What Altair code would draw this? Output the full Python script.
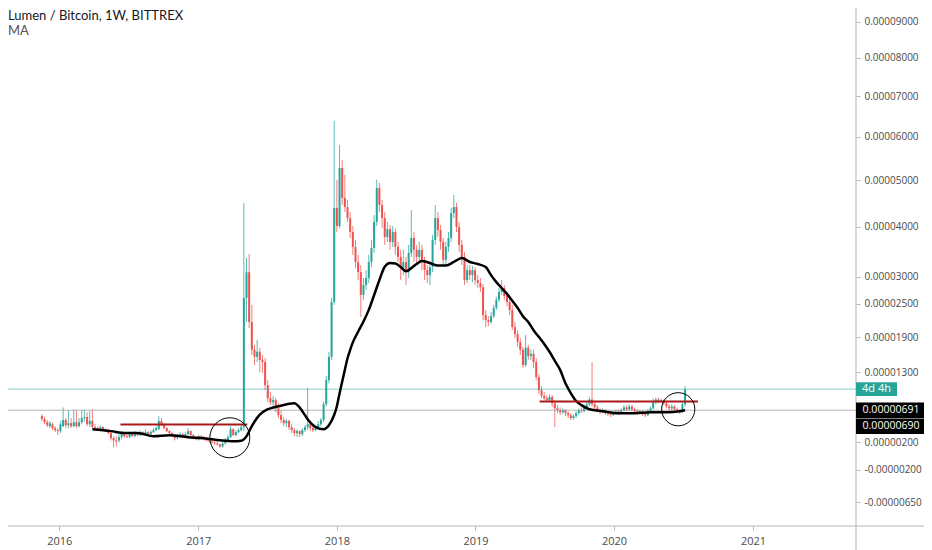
import altair as alt
import pandas as pd

# ---------------- data (prices in satoshi, 1 sat = 0.00000001 BTC) ----------------
first_week = "2015-11-16"

open_ = [
    600, 555, 505, 445, 475, 415, 385, 370, 445, 540,
    460, 490, 445, 505, 445, 505, 570, 585, 475, 525,
    430, 415, 400, 430, 385, 370, 340, 265, 230, 230,
    280, 340, 295, 280, 325, 295, 340, 310, 355, 325,
    355, 325, 355, 385, 400, 525, 475, 415, 370, 340,
    295, 265, 295, 325, 280, 325, 370, 310, 265, 245,
    295, 265, 245, 230, 215, 200, 185, 170, 140, 185,
    230, 280, 400, 310, 355, 385, 430, 2605, 3090, 2165,
    1680, 1560, 1645, 1505, 1470, 1090, 880, 815, 850, 720,
    615, 540, 490, 525, 430, 385, 340, 370, 325, 385,
    430, 475, 415, 385, 430, 475, 540, 785, 1170, 1560,
    2530, 4395, 4015, 5275, 4610, 4415, 4180, 3890, 3590, 3290,
    3090, 2660, 2845, 2980, 3290, 3570, 4100, 4825, 4460, 4180,
    3790, 3950, 3690, 3890, 3590, 3390, 3170, 3290, 3090, 3470,
    3770, 3530, 3390, 3530, 3290, 3130, 3035, 3190, 3730, 4180,
    3930, 3690, 3330, 3590, 3770, 4285, 4415, 3995, 3630, 3390,
    2940, 3130, 3035, 3130, 2940, 2885, 2805, 2290, 2200, 2165,
    2270, 2420, 2570, 2715, 2790, 2640, 2530, 2380, 2075, 1950,
    1815, 1680, 1420, 1715, 1575, 1610, 1470, 1220, 1010, 915,
    880, 850, 900, 800, 720, 690, 660, 690, 645, 615,
    570, 600, 645, 690, 675, 735, 785, 860, 785, 735,
    690, 660, 690, 645, 630, 615, 645, 675, 645, 690,
    735, 705, 750, 705, 675, 645, 675, 630, 615, 675,
    720, 815, 860, 830, 845, 800, 750, 720, 750, 705,
    675, 660, 785,
]
high = [
    630, 585, 540, 525, 505, 445, 415, 525, 735, 570,
    690, 570, 705, 690, 570, 690, 705, 660, 675, 705,
    475, 445, 460, 445, 415, 400, 370, 295, 295, 325,
    370, 355, 340, 355, 340, 370, 355, 385, 370, 400,
    370, 385, 415, 445, 600, 570, 490, 430, 385, 355,
    310, 325, 355, 340, 355, 415, 385, 325, 295, 310,
    310, 295, 280, 265, 245, 230, 215, 185, 215, 265,
    310, 445, 415, 385, 415, 460, 4500, 3370, 3450, 2475,
    1765, 1850, 1715, 1590, 1540, 1170, 975, 915, 880, 800,
    690, 585, 555, 540, 475, 415, 400, 385, 415, 460,
    1045, 505, 460, 460, 525, 570, 830, 1240, 1645, 2610,
    6385, 5010, 5805, 5460, 5120, 4570, 4310, 4015, 3730, 3430,
    3230, 2980, 3130, 3430, 3730, 4245, 5010, 4940, 4570, 4310,
    4100, 4035, 4015, 3970, 3690, 3530, 3530, 3390, 3630, 4350,
    3890, 3630, 3690, 3630, 3390, 3230, 3290, 3830, 4460, 4310,
    4035, 3770, 3690, 3890, 4395, 4675, 4505, 4100, 3730, 3490,
    3230, 3230, 3210, 3190, 3035, 2980, 2865, 2380, 2270, 2345,
    2475, 2625, 2790, 2940, 2845, 2715, 2605, 2475, 2165, 2020,
    1885, 1730, 1935, 1765, 1680, 1680, 1540, 1270, 1075, 980,
    930, 945, 930, 845, 770, 735, 720, 705, 675, 645,
    630, 675, 720, 735, 770, 830, 905, 1470, 830, 770,
    720, 720, 705, 675, 660, 675, 705, 705, 720, 770,
    770, 785, 770, 735, 705, 690, 690, 660, 705, 750,
    875, 890, 890, 875, 860, 830, 785, 785, 770, 735,
    705, 815, 1075,
]
low = [
    525, 475, 430, 415, 385, 355, 310, 340, 430, 415,
    415, 415, 430, 415, 430, 475, 505, 445, 430, 415,
    400, 385, 370, 370, 355, 325, 230, 125, 140, 200,
    245, 265, 265, 265, 280, 280, 295, 295, 310, 310,
    310, 310, 340, 370, 385, 445, 400, 355, 325, 280,
    230, 245, 280, 265, 265, 295, 295, 245, 230, 230,
    245, 230, 215, 200, 185, 170, 155, 125, 125, 170,
    215, 265, 295, 295, 340, 370, 370, 2165, 2055, 1590,
    1420, 1470, 1305, 1290, 1010, 815, 770, 720, 660, 570,
    490, 445, 430, 385, 340, 295, 280, 280, 295, 355,
    385, 370, 355, 370, 400, 445, 505, 750, 1120, 1505,
    2475, 3890, 3970, 4460, 4310, 4100, 3770, 3430, 3170, 2940,
    2255, 2570, 2750, 2885, 3190, 3470, 4015, 4310, 3970, 3630,
    3690, 3530, 3590, 3430, 3290, 2940, 3035, 2845, 2980, 3390,
    3290, 3230, 3290, 3130, 2940, 2885, 2845, 3090, 3630, 3790,
    3530, 3230, 3230, 3490, 3690, 4180, 3890, 3490, 3230, 2845,
    2885, 2940, 2900, 2845, 2790, 2715, 2200, 2075, 2090, 2130,
    2235, 2380, 2530, 2660, 2570, 2455, 2290, 2020, 1885, 1730,
    1590, 1375, 1390, 1505, 1505, 1375, 1170, 945, 880, 850,
    820, 820, 750, 430, 645, 615, 630, 600, 570, 540,
    540, 570, 615, 645, 660, 705, 750, 750, 705, 660,
    630, 645, 615, 600, 585, 600, 630, 615, 630, 675,
    675, 690, 675, 645, 615, 630, 600, 585, 600, 660,
    705, 785, 800, 800, 770, 720, 690, 690, 675, 645,
    630, 645, 750,
]
close = [
    555, 505, 460, 490, 415, 385, 370, 475, 540, 460,
    490, 445, 505, 445, 505, 570, 585, 475, 525, 430,
    415, 400, 430, 385, 370, 340, 265, 230, 215, 280,
    340, 295, 280, 325, 295, 340, 310, 355, 325, 355,
    325, 355, 385, 415, 525, 475, 415, 370, 340, 295,
    265, 295, 325, 280, 325, 370, 310, 265, 245, 295,
    265, 245, 230, 215, 200, 185, 170, 140, 185, 230,
    280, 400, 310, 355, 385, 430, 2605, 3090, 2165, 1680,
    1560, 1645, 1505, 1470, 1090, 880, 815, 850, 720, 615,
    540, 490, 525, 430, 385, 340, 370, 325, 385, 430,
    475, 415, 385, 430, 475, 540, 785, 1170, 1560, 2530,
    4395, 4015, 5275, 4610, 4415, 4180, 3890, 3590, 3290, 3090,
    2660, 2845, 2980, 3290, 3570, 4100, 4825, 4460, 4180, 3790,
    3950, 3690, 3890, 3590, 3390, 3170, 3290, 3090, 3470, 3770,
    3530, 3390, 3530, 3290, 3130, 3035, 3190, 3730, 4180, 3930,
    3690, 3330, 3590, 3770, 4285, 4415, 3995, 3630, 3390, 2940,
    3130, 3035, 3130, 2940, 2885, 2805, 2290, 2200, 2165, 2270,
    2420, 2570, 2715, 2790, 2640, 2530, 2380, 2075, 1950, 1815,
    1680, 1420, 1715, 1575, 1610, 1470, 1220, 1010, 915, 880,
    850, 900, 800, 720, 690, 660, 690, 645, 615, 570,
    600, 645, 690, 675, 735, 785, 860, 785, 735, 690,
    660, 690, 645, 630, 615, 645, 675, 645, 690, 735,
    705, 750, 705, 675, 645, 675, 630, 615, 675, 720,
    815, 860, 830, 845, 800, 750, 720, 750, 705, 675,
    660, 785, 1025,
]

# MA line (week index, value in sat)
ma_week = [19, 26, 31, 36, 42, 48, 55, 61, 67, 72, 75, 77, 79, 82, 85, 89, 95, 98,
           100, 103, 106, 108, 110, 111, 112, 113, 114, 115, 116, 117, 119, 121, 123,
           125, 127, 129, 131, 133, 135, 137, 139, 141, 143, 146, 149, 152, 155, 158,
           161, 164, 167, 169, 171, 173, 175, 177, 179, 181, 183, 185, 187, 189, 191,
           193, 195, 197, 199, 201, 203, 206, 211, 217, 223, 229, 235, 240, 242]
ma_value = [400, 370, 340, 340, 293, 308, 278, 263, 232, 217, 225, 293, 446, 622, 706,
            752, 800, 676, 550, 431, 400, 460, 620, 753, 956, 1148, 1342, 1535, 1677,
            1806, 1993, 2175, 2384, 2655, 2942, 3196, 3270, 3260, 3190, 3110, 3170, 3250,
            3310, 3270, 3220, 3220, 3290, 3370, 3290, 3250, 3190, 3035, 2900, 2790, 2680,
            2550, 2420, 2270, 2165, 2020, 1900, 1780, 1645, 1490, 1340, 1120, 960, 835,
            770, 706, 676, 645, 645, 660, 660, 676, 691]

# drawn annotations
line_start = ["2016-06-10", "2019-06-19"]
line_end = ["2017-05-10", "2020-08-09"]
line_level = [472, 829]
circle1_date, circle1_level = "2017-03-25", 270
circle2_date, circle2_level = "2020-06-18", 706
marked_price = 691          # highlighted price label
ma_last = 690               # MA value label
countdown = "4d 4h"

y_ticks = [9000, 8000, 7000, 6000, 5000, 4000, 3000, 2500, 1900, 1300, 200, -200, -650]
year_ticks = [2016, 2017, 2018, 2019, 2020, 2021]
title_text = "Lumen / Bitcoin, 1W, BITTREX"
legend_text = "MA"

# ---------------- chart ----------------
OFFSET = 9400  # the price scale is logarithmic in (price + offset)
W, H = 848, 512
TEAL = "#26a69a"
RED = "#ef5350"
DARKRED = "#a8191c"
AXIS_GREY = "#b2b5be"
FONT = "Open Sans"

dates = pd.date_range(first_week, periods=len(close), freq="7D")
candles = pd.DataFrame({
    "date": dates.strftime("%Y-%m-%d"),
    "open": open_, "high": high, "low": low, "close": close,
})
candles["dir"] = ["up" if c >= o else "down" for o, c in zip(open_, close)]

ma_df = pd.DataFrame({"date": dates[ma_week].strftime("%Y-%m-%d"), "ma": ma_value})
lines_df = pd.DataFrame({"start": line_start, "end": line_end, "level": line_level})
circ1_df = pd.DataFrame({"date": [circle1_date], "level": [circle1_level]})
circ2_df = pd.DataFrame({"date": [circle2_date], "level": [circle2_level]})

xscale = alt.Scale(type="utc", domain=[alt.DateTime(year=2015, month=9, date=1, utc=True),
                                       alt.DateTime(year=2021, month=9, date=16, utc=True)])
yscale = alt.Scale(type="log", domain=[8437, 18619], nice=False)

xaxis = alt.Axis(values=[alt.DateTime(year=y, month=1, date=1, utc=True) for y in year_ticks],
                 format="%Y", labelFontSize=11, labelColor="#4a4a4a", labelFont=FONT,
                 tickSize=4, tickColor=AXIS_GREY, labelPadding=5, domain=False, grid=False,
                 title=None)
yaxis = alt.Axis(orient="right", values=[t + OFFSET for t in y_ticks],
                 labelExpr="replace(format((datum.value - 9400) / 100000000, '.8f'), '\u2212', '-')",
                 labelFontSize=10, labelColor="#4a4a4a", labelFont=FONT, tickSize=4,
                 tickColor=AXIS_GREY, labelPadding=4, domain=False, grid=False, title=None)


def X(field):
    return alt.X(field, scale=xscale, axis=xaxis, title=None)


def Y(field):
    return alt.Y(field, scale=yscale, axis=yaxis, title=None)


color = alt.Color("dir:N", scale=alt.Scale(domain=["up", "down"], range=[TEAL, RED]), legend=None)

base = alt.Chart(candles).transform_calculate(
    o=f"datum.open + {OFFSET}", c=f"datum.close + {OFFSET}",
    hi=f"datum.high + {OFFSET}", lo=f"datum.low + {OFFSET}",
)

wicks = base.mark_rule(strokeWidth=1, opacity=0.75).encode(
    x=X("date:T"), y=Y("lo:Q"), y2="hi:Q", color=color)
bodies = base.mark_bar(size=2).encode(
    x=X("date:T"), y=Y("o:Q"), y2="c:Q", color=color)

ma_line = alt.Chart(ma_df).transform_calculate(m=f"datum.ma + {OFFSET}").mark_line(
    color="black", strokeWidth=2.5, interpolate="monotone"
).encode(x=X("date:T"), y=Y("m:Q"))

trend = alt.Chart(lines_df).transform_calculate(lv=f"datum.level + {OFFSET}").mark_rule(
    color=DARKRED, strokeWidth=2
).encode(x=X("start:T"), x2="end:T", y=Y("lv:Q"))

circle1 = alt.Chart(circ1_df).transform_calculate(lv=f"datum.level + {OFFSET}").mark_point(
    shape="circle", filled=False, color="black", strokeWidth=1, size=1600, opacity=1
).encode(x=X("date:T"), y=Y("lv:Q"))
circle2 = alt.Chart(circ2_df).transform_calculate(lv=f"datum.level + {OFFSET}").mark_point(
    shape="circle", filled=False, color="black", strokeWidth=1, size=1100, opacity=1
).encode(x=X("date:T"), y=Y("lv:Q"))

levels = pd.DataFrame({
    "level": [close[-1], marked_price, ma_last],
    "label": [countdown, f"{marked_price / 1e8:.8f}", f"{ma_last / 1e8:.8f}"],
    "kind": ["last", "marked", "ma"],
})
lv_base = alt.Chart(levels).transform_calculate(lv=f"datum.level + {OFFSET}")
ly = Y("lv:Q")

price_line = lv_base.transform_filter(alt.datum.kind == "last").mark_rule(
    color=TEAL, strokeWidth=1, opacity=0.55).encode(y=ly)
marked_line = lv_base.transform_filter(alt.datum.kind == "marked").mark_rule(
    color="#9598a1", strokeWidth=1, opacity=0.7).encode(y=ly)

BOX_BLACK = "M-1,-0.22H1V0.22H-1Z"
BOX_TEAL = "M-1,-0.34H1V0.34H-1Z"
box_last = lv_base.transform_filter(alt.datum.kind == "last").mark_point(
    shape=BOX_TEAL, filled=True, size=1681, color=TEAL, opacity=1).encode(
    x=alt.value(868.5), y=ly)
box_marked = lv_base.transform_filter(alt.datum.kind == "marked").mark_point(
    shape=BOX_BLACK, filled=True, size=4900, color="black", opacity=1).encode(
    x=alt.value(883), y=ly)
box_ma = lv_base.transform_filter(alt.datum.kind == "ma").mark_point(
    shape=BOX_BLACK, filled=True, size=4900, color="black", opacity=1, yOffset=16).encode(
    x=alt.value(883), y=ly)
txt_last = lv_base.transform_filter(alt.datum.kind == "last").mark_text(
    color="white", fontSize=11, font=FONT, align="center", baseline="middle").encode(
    x=alt.value(868.5), y=ly, text="label:N")
txt_marked = lv_base.transform_filter(alt.datum.kind == "marked").mark_text(
    color="white", fontSize=10.5, font=FONT, align="center", baseline="middle").encode(
    x=alt.value(883), y=ly, text="label:N")
txt_ma = lv_base.transform_filter(alt.datum.kind == "ma").mark_text(
    color="white", fontSize=10.5, font=FONT, align="center", baseline="middle", yOffset=16).encode(
    x=alt.value(883), y=ly, text="label:N")

one = pd.DataFrame({"t": [title_text], "m": [legend_text]})
title_mark = alt.Chart(one).mark_text(
    align="left", baseline="middle", fontSize=13, font="Lato", color="#131722").encode(
    x=alt.value(0), y=alt.value(1.5), text="t:N")
legend_mark = alt.Chart(one).mark_text(
    align="left", baseline="middle", fontSize=13, font="Lato", color="#555555").encode(
    x=alt.value(0), y=alt.value(17), text="m:N")

vborder = alt.Chart(one).mark_rule(color=AXIS_GREY, strokeWidth=1).encode(
    x=alt.value(W), y=alt.value(-6), y2=alt.value(H + 30))
hborder = alt.Chart(one).mark_rule(color=AXIS_GREY, strokeWidth=1).encode(
    x=alt.value(0), x2=alt.value(W + 68), y=alt.value(H))

chart = alt.layer(
    wicks, bodies, price_line, marked_line, ma_line, trend, circle1, circle2,
    vborder, hborder,
    box_last, box_marked, box_ma, txt_last, txt_marked, txt_ma,
    title_mark, legend_mark,
).properties(
    width=W, height=H,
    background="white",
    autosize=alt.AutoSizeParams(type="none"),
    padding={"left": 0, "top": 6, "right": 68, "bottom": 24},
).configure_view(strokeWidth=0)

chart.save("out.html", embed_options={"renderer": "svg", "actions": False})
